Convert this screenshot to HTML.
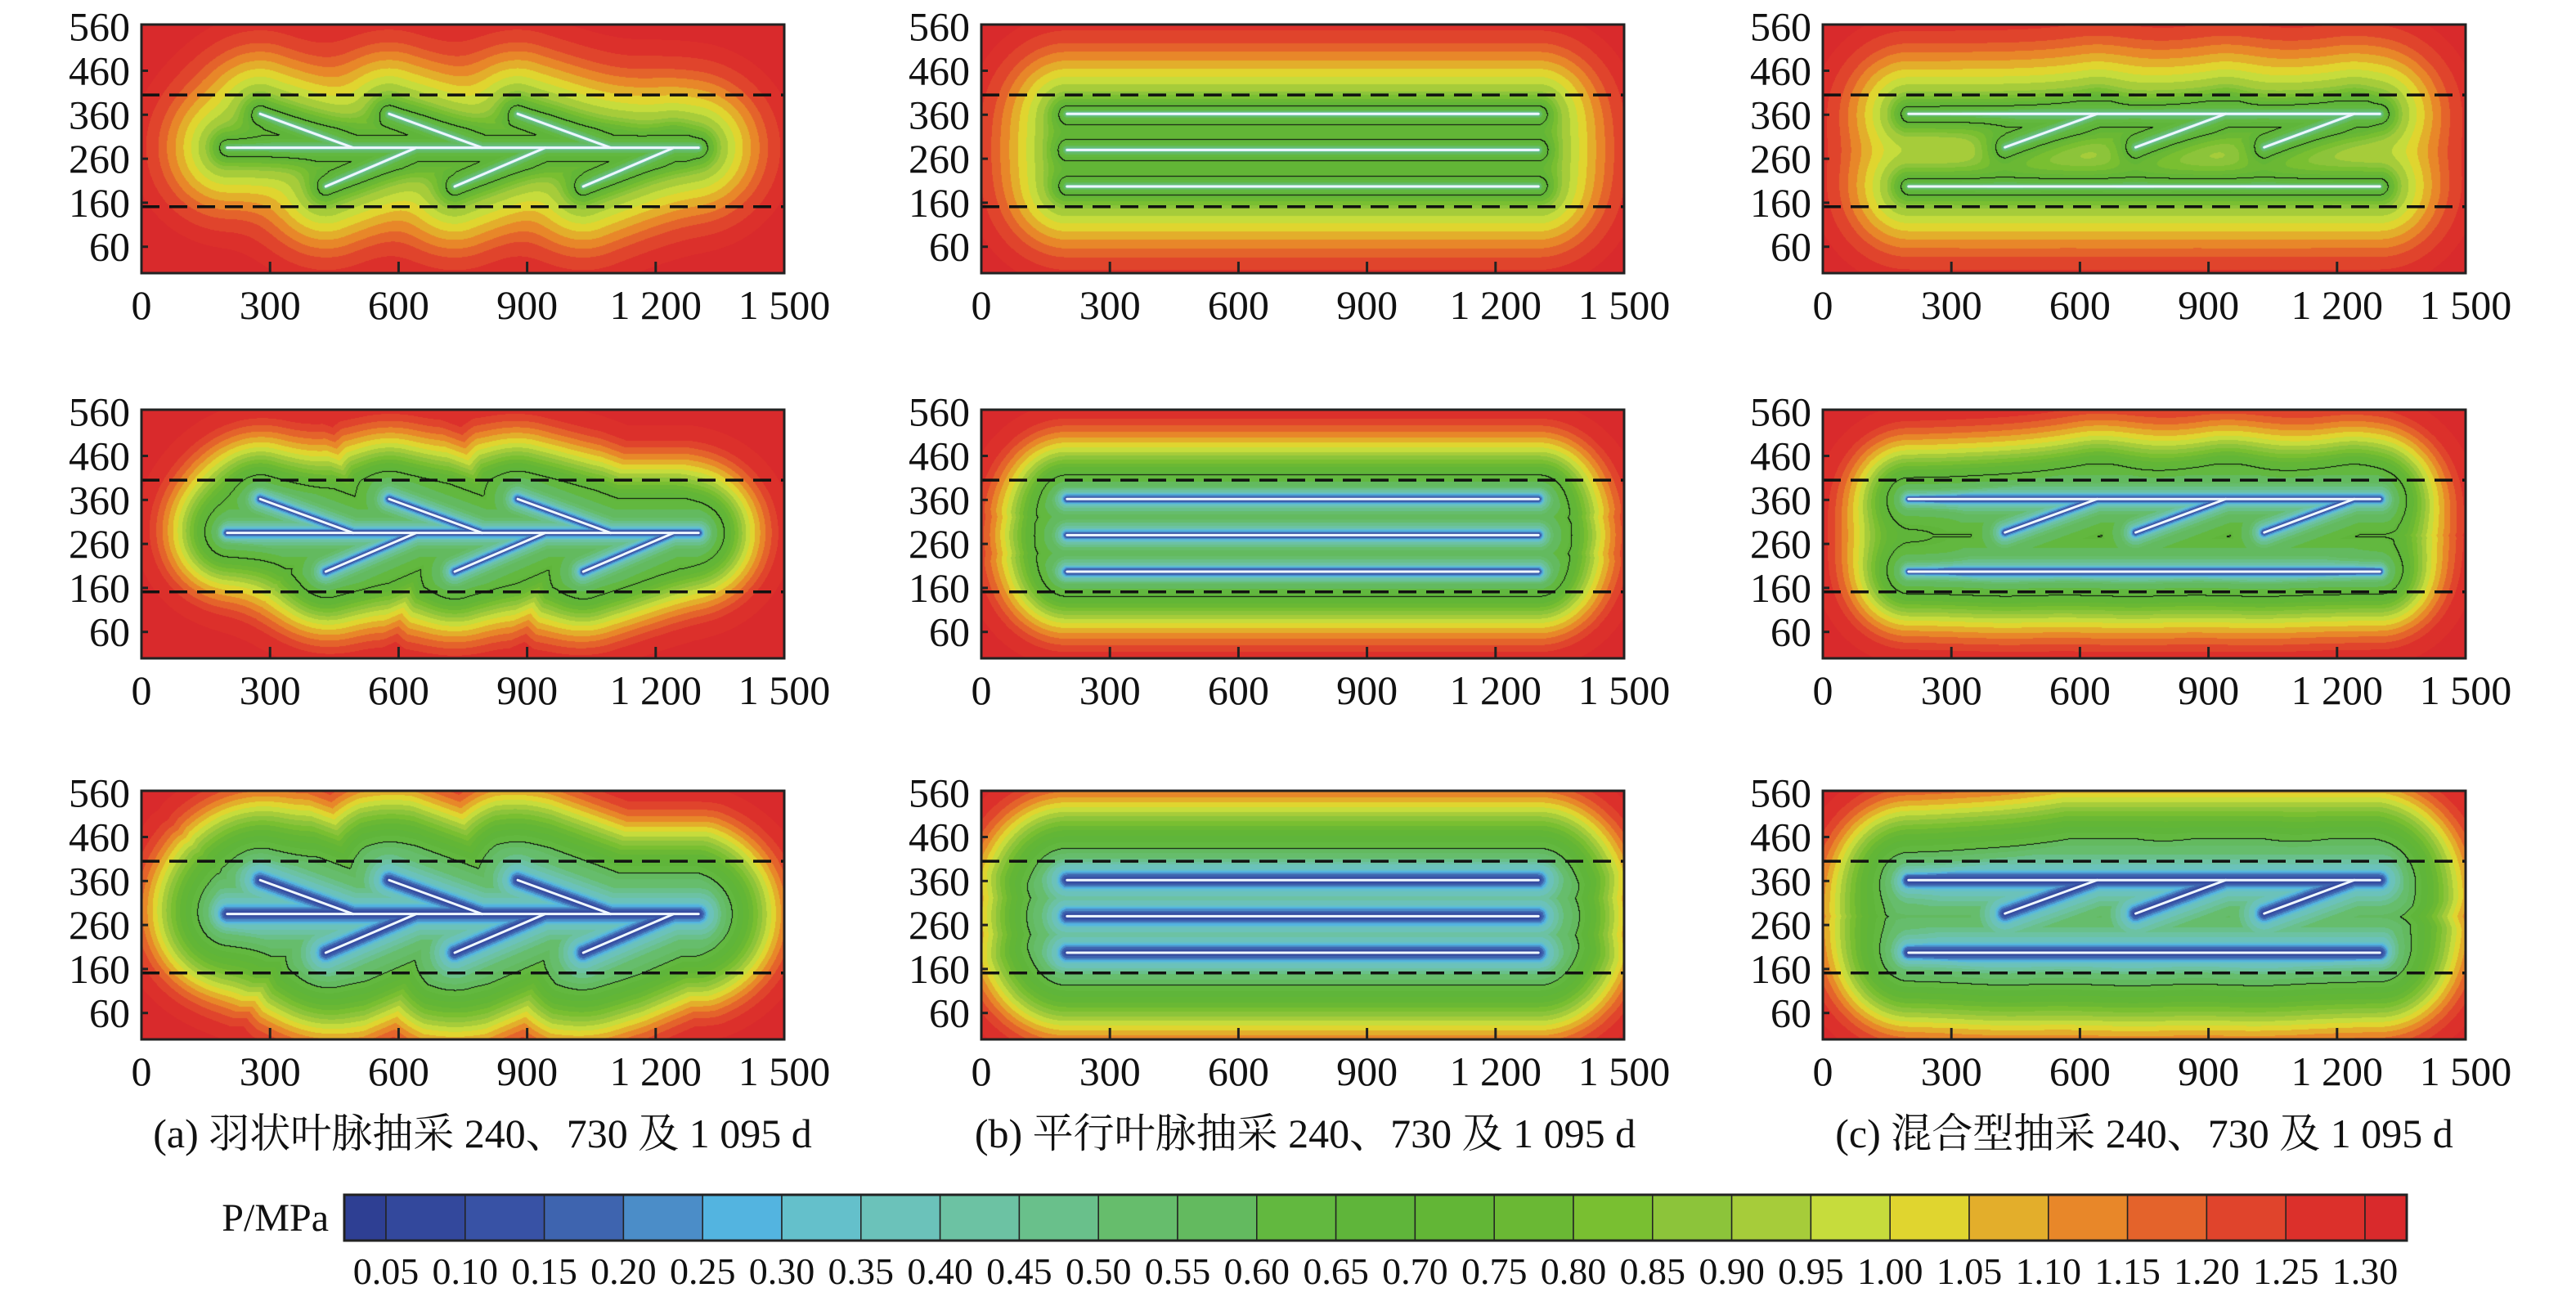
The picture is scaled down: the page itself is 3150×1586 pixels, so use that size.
<!DOCTYPE html>
<html><head><meta charset="utf-8"><style>
body{margin:0;background:#fff;width:3150px;height:1586px;overflow:hidden;position:relative;font-family:"Liberation Serif","Noto Serif CJK SC",serif}
canvas{position:absolute}
svg{position:absolute;left:0;top:0}
</style></head><body>
<div id="maps"></div>
<svg id="ov" width="3150" height="1586"></svg>
<script>
// ---- data ----
const xTicks = [0, 300, 600, 900, 1200, 1500];
const xTickLabels = ["0", "300", "600", "900", "1 200", "1 500"];
const yTicks = [60, 160, 260, 360, 460, 560];
const yTickLabels = ["60", "160", "260", "360", "460", "560"];
const dashedBounds = [405, 151];
const layouts = ["a", "b", "c"];
const captions = ["(a) 羽状叶脉抽采 240、730 及 1 095 d", "(b) 平行叶脉抽采 240、730 及 1 095 d", "(c) 混合型抽采 240、730 及 1 095 d"];
const wellsA = [[200,285,1300,285],[277,362,494,285],[578,362,795,285],[878,362,1095,285],[641,285,430,197],[942,285,731,197],[1242,285,1031,197]];
const wellsB = [[200,362,1300,362],[200,280,1300,280],[200,197,1300,197]];
const wellsC = [[200,362,1300,362],[200,197,1300,197],[425,286,640,362],[730,286,940,362],[1030,286,1240,362]];
const times = ["240 d", "730 d", "1 095 d"];
const softK = [25, 45, 55];
const profDist = [
 [0,3,8,18,30,50,90,120,160,200,250],
 [0,4,10,22,40,65,85,105,125,150,175,230],
 [0,5,15,35,60,100,125,150,170,195,220,270]];
const profP = [
 [0.3,0.5,0.62,0.7,0.78,0.9,1.02,1.1,1.2,1.27,1.33],
 [0.05,0.2,0.42,0.56,0.63,0.75,0.87,0.98,1.07,1.17,1.25,1.33],
 [0.03,0.15,0.35,0.5,0.6,0.75,0.87,0.99,1.08,1.18,1.25,1.33]];
const contourDist = [18, 48, 60];
const levels = [0.05,0.10,0.15,0.20,0.25,0.30,0.35,0.40,0.45,0.50,0.55,0.60,0.65,0.70,0.75,0.80,0.85,0.90,0.95,1.00,1.05,1.10,1.15,1.20,1.25,1.30];
const levelLabels = ["0.05","0.10","0.15","0.20","0.25","0.30","0.35","0.40","0.45","0.50","0.55","0.60","0.65","0.70","0.75","0.80","0.85","0.90","0.95","1.00","1.05","1.10","1.15","1.20","1.25","1.30"];
const levelColors = ["#2e3f93","#33489c","#3852a5","#3e64af","#4b8dc8","#53b4e0","#64c0cb","#6bc2ba","#6cc2a3","#69c08b","#66bd6c","#63ba5f","#62b83f","#5fb53a","#62b636","#6ab834","#79bf31","#8cc43a","#a6cc3a","#c6dc3c","#e0d52f","#e3ae2b","#e88729","#e4632b","#e0442c","#dc302b","#d92a2c"];

// ---- layout ----
const colLeft = [173, 1200, 2229], rowTop = [30, 501, 967], PW = 786, PH = 304;
const XMAX = 1500, YMAX = 565;
const NS = "http://www.w3.org/2000/svg";
const ov = document.getElementById('ov');
function el(tag, attrs, parent){const e=document.createElementNS(NS,tag);for(const k in attrs)e.setAttribute(k,attrs[k]);(parent||ov).appendChild(e);return e;}
function hex(c){return [parseInt(c.slice(1,3),16),parseInt(c.slice(3,5),16),parseInt(c.slice(5,7),16)];}
const rgb = levelColors.map(hex);
function segDist(px,py,s){const dx=s[2]-s[0],dy=s[3]-s[1];let t=((px-s[0])*dx+(py-s[1])*dy)/(dx*dx+dy*dy);t=Math.max(0,Math.min(1,t));const ex=s[0]+t*dx-px,ey=s[1]+t*dy-py;return Math.sqrt(ex*ex+ey*ey);}
function interp(d,D,P){if(d<=D[0])return P[0];for(let i=1;i<D.length;i++){if(d<=D[i])return P[i-1]+(P[i]-P[i-1])*(d-D[i-1])/(D[i]-D[i-1]);}return P[P.length-1];}
function colorIdx(p){let i=0;while(i<levels.length&&p>=levels[i])i++;return i;}
const wellSets=[wellsA,wellsB,wellsC];
const maps=document.getElementById('maps');

for(let c=0;c<3;c++){for(let r=0;r<3;r++){
 const L=colLeft[c],T=rowTop[r];
 const xs=v=>L+v*PW/XMAX, ys=v=>T+PH-v*PH/YMAX;
 const cv=document.createElement('canvas');cv.width=PW;cv.height=PH;cv.style.left=L+'px';cv.style.top=T+'px';
 
 
 maps.appendChild(cv);
 const ctx=cv.getContext('2d');const img=ctx.createImageData(PW,PH);const D=new Float32Array(PW*PH);
 const W=wellSets[c],k=softK[r];
 for(let j=0;j<PH;j++){const vy=(PH-j-0.5)*YMAX/PH;for(let i=0;i<PW;i++){const vx=(i+0.5)*XMAX/PW;let s=0,dm=1e9;for(const w of W){const dd=segDist(vx,vy,w);if(dd<dm)dm=dd;s+=Math.exp(-dd/k);}
  let d=-k*Math.log(s);d=Math.max(d,0.6*dm,dm-35);
  D[j*PW+i]=d;}}
 for(let j=0;j<PH;j++)for(let i=0;i<PW;i++){const idx=j*PW+i;const d=D[idx];let col=rgb[colorIdx(interp(d,profDist[r],profP[r]))];
  const dc=contourDist[r];let edge=false;
  if(i>0){const a=D[idx-1];if((d>=dc)!==(a>=dc))edge=true;}
  if(j>0){const a=D[idx-PW];if((d>=dc)!==(a>=dc))edge=true;}
  if(edge)col=[10,10,10];
  const o=idx*4;img.data[o]=col[0];img.data[o+1]=col[1];img.data[o+2]=col[2];img.data[o+3]=255;}
 ctx.putImageData(img,0,0);
 const g=el('g',{});
 
 
 for(const w of W){const ln=el('line',{x1:xs(w[0]),y1:ys(w[1]),x2:xs(w[2]),y2:ys(w[3]),stroke:'#eef7ff','stroke-width':3,'stroke-linecap':'round'},g);
  
  }
 for(const b of dashedBounds){const dl=el('line',{x1:L,x2:L+PW,y1:ys(b),y2:ys(b),stroke:'#111','stroke-width':3.5,'stroke-dasharray':'22 12'},g);
  
  }
 const fr=el('rect',{x:L,y:T,width:PW,height:PH,fill:'none',stroke:'#222','stroke-width':3},g);
 
 
 xTicks.forEach((t,ti)=>{const x=xs(t);
  if(t>0&&t<XMAX)el('line',{x1:x,x2:x,y1:T+PH,y2:T+PH-14,stroke:'#222','stroke-width':3},g);
  const tx=el('text',{x:x,y:T+PH+56,'text-anchor':'middle','font-size':50,fill:'#111'},g);tx.textContent=xTickLabels[ti];
  
  });
 yTicks.forEach((t,ti)=>{const y=ys(t);
  if(t<560)el('line',{x1:L,x2:L+8,y1:y,y2:y,stroke:'#222','stroke-width':3},g);
  const ty=el('text',{x:L-14,y:Math.max(y,T+2)+17,'text-anchor':'end','font-size':50,fill:'#111'},g);ty.textContent=yTickLabels[ti];
  
  });
}}
const capX=[590,1596,2622];
captions.forEach((t,i)=>{const e=el('text',{x:capX[i],y:1403,'text-anchor':'middle','font-size':50,fill:'#111'});e.textContent=t;
 
 });
// colorbar
const cbL=421,cbR=2943,cbT=1461,cbB=1517,b0=472,step=96.8;
const bx=i=>b0+i*step;
const cb=el('g',{});


for(let i=0;i<levelColors.length;i++){const x0=i===0?cbL:bx(i-1),x1=i===levelColors.length-1?cbR:bx(i);
 const rc=el('rect',{x:x0,y:cbT,width:x1-x0,height:cbB-cbT,fill:levelColors[i],stroke:'#222','stroke-width':1.5},cb);
 
 }
el('rect',{x:cbL,y:cbT,width:cbR-cbL,height:cbB-cbT,fill:'none',stroke:'#222','stroke-width':3},cb);
levels.forEach((v,i)=>{const t=el('text',{x:bx(i),y:1570,'text-anchor':'middle','font-size':46,fill:'#111'},cb);t.textContent=levelLabels[i];
 
 });
const ut=el('text',{x:402,y:1505,'text-anchor':'end','font-size':48,fill:'#111'},cb);ut.textContent='P/MPa';


</script>
</body></html>
